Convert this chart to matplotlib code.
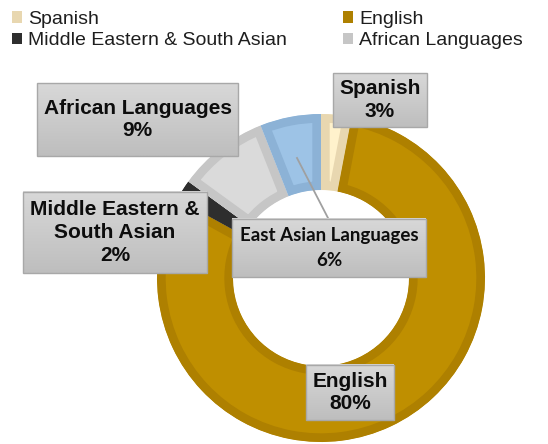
import matplotlib.pyplot as plt
from matplotlib.patches import Rectangle, Patch
from matplotlib.colors import LinearSegmentedColormap
import numpy as np

# data
names = ['Spanish', 'English', 'Middle Eastern & South Asian',
         'African Languages', 'East Asian Languages']
box_names = ['Spanish', 'English', 'Middle Eastern &\nSouth Asian',
             'African Languages', 'East Asian Languages']
shares = [3, 80, 2, 9, 6]

fills = ['#FFF2CC', '#BF8F00', '#3B3B3B', '#DADADA', '#9DC3E6']
edges = ['#E8D7B0', '#AE8000', '#2E2E2E', '#C6C6C6', '#8CB2D6']
legend_order = [0, 2, 1, 3]

W, H = 548, 444
fig = plt.figure(figsize=(W / 100, H / 100), dpi=100)
ax = fig.add_axes([0, 0, 1, 1])

wedges, _ = ax.pie(shares, colors=fills, startangle=90, counterclock=False,
                   radius=164, center=(321, H - 278),
                   wedgeprops=dict(width=76, linewidth=12.5))
for w, ec in zip(wedges, edges):
    w.set_edgecolor(ec)
    w.set_joinstyle('miter')
    w.set_clip_on(True)
    w.set_clip_path(w)  # keep the thick border inside each slice

# label boxes (x0, top, x1, bottom) in pixels from top-left
boxes = [(333, 73, 427, 127), (306, 365, 394, 420), (23, 192, 207, 273),
         (37, 83, 238, 156), (232, 219, 426, 277)]
grad = LinearSegmentedColormap.from_list('g', ['#D8D8D8', '#BEBEBE'])
g = np.linspace(0, 1, 64).reshape(-1, 1)

# leader line for East Asian
ax.plot([297, 328], [H - 158, H - 218], color='#A0A0A0', lw=1.3, zorder=2)

for i, (x0, t, x1, b) in enumerate(boxes):
    ax.imshow(g, cmap=grad, extent=(x0, x1, H - b, H - t), aspect='auto',
              zorder=3, interpolation='bilinear')
    ax.add_patch(Rectangle((x0, H - b), x1 - x0, b - t, fill=False,
                           edgecolor='#A8A8A8', lw=1, zorder=4))
    txt = f'{box_names[i]}\n{shares[i]}%'
    if i == 4:
        ax.text((x0 + x1) / 2, H - (t + b) / 2, txt, ha='center', va='center',
                fontsize=13.5, fontweight='bold', family='Lato',
                color='#0D0D0D', linespacing=1.5, zorder=5)
    else:
        ax.text((x0 + x1) / 2, H - (t + b) / 2, txt, ha='center', va='center',
                fontsize=15, fontweight='bold', family='Liberation Sans',
                color='#0D0D0D', linespacing=1.25, zorder=5)

handles = [Patch(facecolor=edges[i], edgecolor='none', label=names[i])
           for i in legend_order]
fig.legend(handles=handles, loc='upper left', bbox_to_anchor=(12 / W, 1 - 11 / H),
           ncol=2, frameon=False, borderpad=0, borderaxespad=0,
           handlelength=0.52, handleheight=0.52, handletextpad=0.3,
           columnspacing=2.9, labelspacing=0.22,
           prop={'family': 'Liberation Sans', 'size': 14}, labelcolor='#1E1E1E')

ax.set_xlim(0, W)
ax.set_ylim(0, H)
ax.set_aspect('auto')
ax.axis('off')
fig.savefig('out.png', dpi=100)
